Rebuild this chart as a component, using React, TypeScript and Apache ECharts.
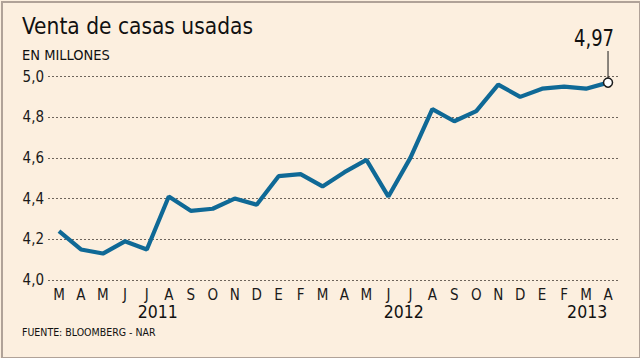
import React, { useEffect, useRef } from "react";
import * as echarts from "echarts";

const months = ["M","A","M","J","J","A","S","O","N","D","E","F","M","A","M","J","J","A","S","O","N","D","E","F","M","A"];
const sales = [4.24,4.15,4.13,4.19,4.15,4.41,4.34,4.35,4.40,4.37,4.51,4.52,4.46,4.53,4.59,4.41,4.60,4.84,4.78,4.83,4.96,4.90,4.94,4.95,4.94,4.97];
const years = [
  { label: "2011", pos: 4.5 },
  { label: "2012", pos: 15.7 },
  { label: "2013", pos: 24.05 },
];
const yTicks = [4.0, 4.2, 4.4, 4.6, 4.8, 5.0];

const FONT = "'DejaVu Sans Condensed', 'DejaVu Sans', sans-serif";

export default function App() {
  const ref = useRef<HTMLDivElement>(null);
  useEffect(() => {
    if (!ref.current) return;
    const chart = echarts.init(ref.current, undefined, { renderer: "svg" });
    const last = sales.length - 1;
    chart.setOption({
      animation: false,
      backgroundColor: "transparent",
      grid: { left: 48, right: 21, top: 76.5, bottom: 78, containLabel: false },
      xAxis: {
        type: "category",
        data: months,
        boundaryGap: true,
        axisLine: { show: false },
        axisTick: { show: false },
        axisLabel: { color: "#1a1a1a", fontSize: 15, fontFamily: FONT, margin: 7, interval: 0 },
        splitLine: { show: false },
      },
      yAxis: {
        type: "value",
        min: yTicks[0],
        max: yTicks[yTicks.length - 1],
        interval: 0.2,
        axisLine: { show: false },
        axisTick: { show: false },
        axisLabel: {
          color: "#1a1a1a",
          fontSize: 15,
          fontFamily: FONT,
          margin: 4,
          formatter: (v: number) => v.toFixed(1).replace(".", ","),
        },
        splitLine: { show: true, lineStyle: { color: "#6e655c", type: [2, 2], width: 1 } },
      },
      series: [
        {
          type: "line",
          data: sales.map((v, i) =>
            i === last
              ? { value: v, symbol: "circle", symbolSize: 9, itemStyle: { color: "#ffffff", borderColor: "#1a1a1a", borderWidth: 1.5 } }
              : { value: v, symbol: "none" }
          ),
          showSymbol: true,
          lineStyle: { color: "#0f6996", width: 4.2 },
          itemStyle: { color: "#0f6996" },
          z: 3,
        },
      ],
    });
    const p0 = chart.convertToPixel({ xAxisIndex: 0, yAxisIndex: 0 }, [0, yTicks[0]]) as number[];
    const p1 = chart.convertToPixel({ xAxisIndex: 0, yAxisIndex: 0 }, [1, yTicks[0]]) as number[];
    const step = p1[0] - p0[0];
    const pl = chart.convertToPixel({ xAxisIndex: 0, yAxisIndex: 0 }, [last, sales[last]]) as number[];
    chart.setOption({
      graphic: [
        { type: "text", left: 22, top: 14, style: { text: "Venta de casas usadas", fontSize: 22.5, fontFamily: FONT, fill: "#111" } },
        { type: "text", left: 22, top: 47, style: { text: "EN MILLONES", fontSize: 14.5, fontFamily: FONT, fill: "#111" } },
        { type: "text", left: 22, top: 326, style: { text: "FUENTE: BLOOMBERG - NAR", fontSize: 10.5, fontFamily: FONT, fill: "#111" } },
        ...years.map((y) => ({
          type: "text",
          x: p0[0] + step * y.pos,
          y: 303,
          style: { text: y.label, fontSize: 17.5, fontFamily: FONT, fill: "#111", textAlign: "center", textVerticalAlign: "top" },
        })),
        { type: "line", shape: { x1: pl[0], y1: pl[1] - 4.5, x2: pl[0], y2: 51 }, style: { stroke: "#1a1a1a", lineWidth: 1 }, z: 10 },
        { type: "text", x: pl[0] + 6, y: 49, scaleY: 1.15, style: { text: sales[last].toFixed(2).replace(".", ","), fontSize: 20, fontFamily: FONT, fill: "#111", textAlign: "right", textVerticalAlign: "bottom" } },
      ],
    });
    return () => chart.dispose();
  }, []);
  return (
    <div style={{ position: "absolute", left: 0, top: 0, width: 640, height: 358, background: "#fcefdf", overflow: "hidden" }}>
      <div style={{ position: "absolute", left: 1, top: 1, width: 636, height: 354, border: "2px solid #b0a298", boxSizing: "content-box" }} />
      <div ref={ref} style={{ position: "absolute", left: 0, top: 0, width: 640, height: 358 }} />
    </div>
  );
}
